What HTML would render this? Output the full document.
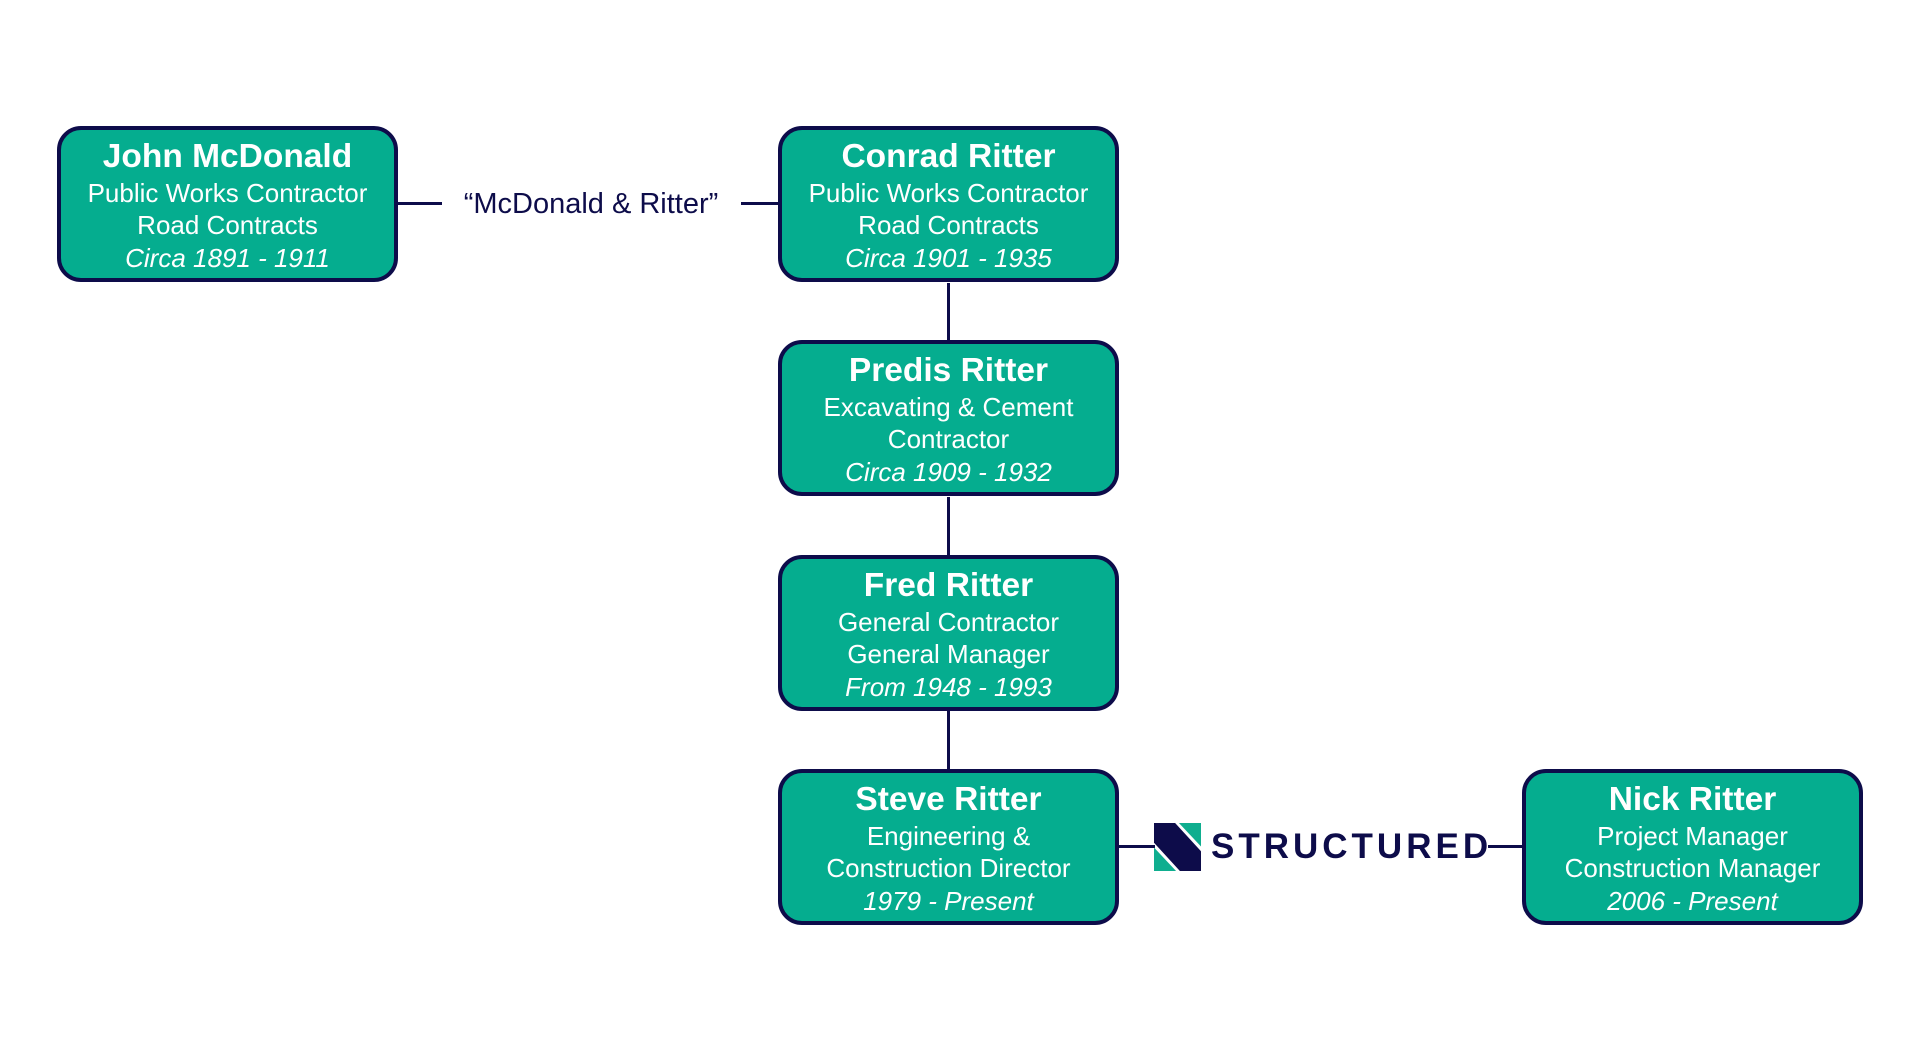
<!DOCTYPE html>
<html><head><meta charset="utf-8"><style>
html,body{margin:0;padding:0;background:#fff;}
body{width:1920px;height:1037px;position:relative;overflow:hidden;font-family:"Liberation Sans",Arial,sans-serif;}
.box{position:absolute;width:333px;height:148px;background:#05ad8f;border:4.5px solid #0d0c4a;border-radius:24px;color:#fff;text-align:center;}
.box .t{position:absolute;left:-20px;right:-20px;top:9px;font-weight:bold;font-size:33.5px;line-height:36px;}
.box .l{position:absolute;left:-20px;right:-20px;font-size:26px;line-height:30px;}
.box .i{font-style:italic;}
.h{position:absolute;height:3px;background:#0d0c4a;}
.v{position:absolute;width:3px;background:#0d0c4a;}
</style></head><body>

<div class="box" style="left:57px;top:126px;"><div class="t">John McDonald</div><div class="l" style="top:48px">Public Works Contractor</div><div class="l" style="top:80px">Road Contracts</div><div class="l i" style="top:113px">Circa 1891 - 1911</div></div>
<div class="box" style="left:778px;top:126px;"><div class="t">Conrad Ritter</div><div class="l" style="top:48px">Public Works Contractor</div><div class="l" style="top:80px">Road Contracts</div><div class="l i" style="top:113px">Circa 1901 - 1935</div></div>
<div class="box" style="left:778px;top:340px;"><div class="t">Predis Ritter</div><div class="l" style="top:48px">Excavating &amp; Cement</div><div class="l" style="top:80px">Contractor</div><div class="l i" style="top:113px">Circa 1909 - 1932</div></div>
<div class="box" style="left:778px;top:555px;"><div class="t">Fred Ritter</div><div class="l" style="top:48px">General Contractor</div><div class="l" style="top:80px">General Manager</div><div class="l i" style="top:113px">From 1948 - 1993</div></div>
<div class="box" style="left:778px;top:769px;"><div class="t">Steve Ritter</div><div class="l" style="top:48px">Engineering &amp;</div><div class="l" style="top:80px">Construction Director</div><div class="l i" style="top:113px">1979 - Present</div></div>
<div class="box" style="left:1522px;top:769px;"><div class="t">Nick Ritter</div><div class="l" style="top:48px">Project Manager</div><div class="l" style="top:80px">Construction Manager</div><div class="l i" style="top:113px">2006 - Present</div></div>

<div class="h" style="left:398px;width:44px;top:202px"></div>
<div class="h" style="left:741px;width:40px;top:202px"></div>
<div style="position:absolute;left:421px;width:340px;top:187px;text-align:center;font-size:29px;line-height:34px;color:#0d0c4a;">“McDonald &amp; Ritter”</div>

<div class="v" style="left:947px;top:283px;height:60px"></div>
<div class="v" style="left:947px;top:497px;height:61px"></div>
<div class="v" style="left:947px;top:711px;height:61px"></div>

<div class="h" style="left:1119px;width:36px;top:845px"></div>
<div class="h" style="left:1488px;width:36px;top:845px"></div>
<svg style="position:absolute;left:1154px;top:823px" width="47" height="48" viewBox="0 0 49 51" preserveAspectRatio="none">
<polygon points="0,0 22,0 49,30 49,51 27,51 0,21" fill="#0d0c4a"/>
<polygon points="26,0 49,0 49,25" fill="#0fae8f"/>
<polygon points="0,26 23,51 0,51" fill="#0fae8f"/>
</svg>
<div style="position:absolute;left:1211px;top:827px;font-weight:bold;font-size:35px;line-height:40px;color:#0d0c4a;letter-spacing:4px;">STRUCTURED</div>
</body></html>
